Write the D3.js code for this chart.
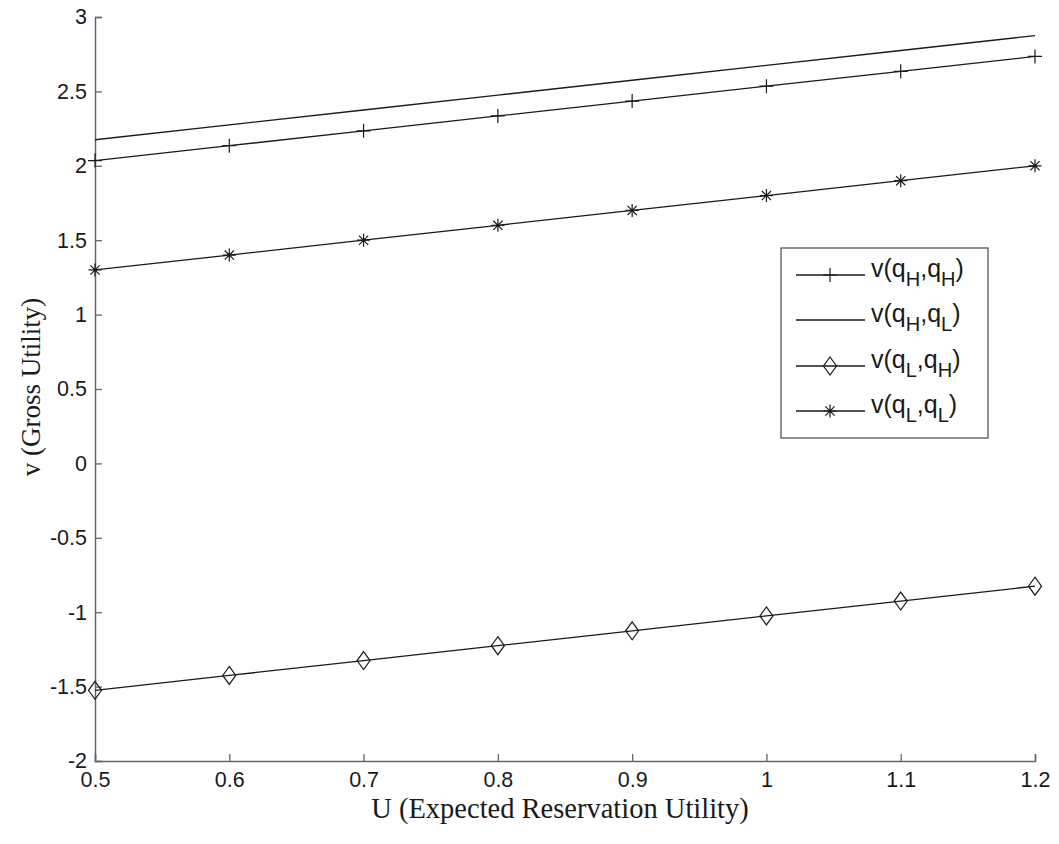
<!DOCTYPE html>
<html>
<head>
<meta charset="utf-8">
<script src="https://cdn.jsdelivr.net/npm/d3@7"></script>
<style>
  body { margin: 0; background: #fff; }
</style>
</head>
<body>
<svg id="chart" width="1059" height="844"></svg>
<script>
const uValues = [0.5, 0.6, 0.7, 0.8, 0.9, 1.0, 1.1, 1.2];
const vHH = [2.035, 2.135, 2.235, 2.335, 2.435, 2.535, 2.635, 2.735];
const vHL = [2.175, 2.275, 2.375, 2.475, 2.575, 2.675, 2.775, 2.875];
const vLH = [-1.525, -1.425, -1.325, -1.225, -1.125, -1.025, -0.925, -0.825];
const vLL = [1.3, 1.4, 1.5, 1.6, 1.7, 1.8, 1.9, 2.0];
const xTicks = [0.5, 0.6, 0.7, 0.8, 0.9, 1, 1.1, 1.2];
const yTicks = [-2, -1.5, -1, -0.5, 0, 0.5, 1, 1.5, 2, 2.5, 3];

const series = [
  { name: "HH", sub: ["H", "H"], values: vHH, marker: "plus" },
  { name: "HL", sub: ["H", "L"], values: vHL, marker: "none" },
  { name: "LH", sub: ["L", "H"], values: vLH, marker: "diamond" },
  { name: "LL", sub: ["L", "L"], values: vLL, marker: "star" }
];

const svg = d3.select("#chart");
const x = d3.scaleLinear().domain([0.5, 1.2]).range([95, 1035]);
const y = d3.scaleLinear().domain([-2, 3]).range([761, 17]);
const ink = "#1a1a1a";
const sans = "Liberation Sans, Arial, sans-serif";
const serif = "Liberation Serif, Times New Roman, serif";

// axes: left and bottom only, ticks pointing inward
const xAxis = d3.axisBottom(x).tickValues(xTicks).tickSize(-7).tickPadding(11)
  .tickFormat(d => String(d));
const yAxis = d3.axisLeft(y).tickValues(yTicks).tickSize(-7).tickPadding(8)
  .tickFormat(d => String(d));

const gx = svg.append("g").attr("transform", `translate(0,${y(-2)})`).call(xAxis);
const gy = svg.append("g").attr("transform", `translate(${x(0.5)},0)`).call(yAxis);
[gx, gy].forEach(g => {
  g.attr("font-family", sans).attr("font-size", 21.5);
  g.select(".domain").attr("stroke", "#666").attr("stroke-width", 1.5);
  g.selectAll(".tick line").attr("stroke", "#666").attr("stroke-width", 1.3);
  g.selectAll(".tick text").attr("fill", ink)
    .style("font-size", "21.5px").style("font-family", sans);
});

// axis titles
svg.append("text")
  .attr("x", 560).attr("y", 818)
  .attr("text-anchor", "middle")
  .attr("font-family", serif)
  .attr("font-size", 28.5).attr("fill", ink)
  .text("U (Expected Reservation Utility)");
svg.append("text")
  .attr("transform", "translate(40,387) rotate(-90)")
  .attr("text-anchor", "middle")
  .attr("font-family", serif)
  .attr("font-size", 27).attr("fill", ink)
  .text("v (Gross Utility)");

function drawMarker(g, type, cx, cy) {
  let d = null;
  if (type === "plus") {
    d = `M${cx - 7},${cy}H${cx + 7}M${cx},${cy - 7}V${cy + 7}`;
  } else if (type === "diamond") {
    d = `M${cx},${cy - 9}L${cx + 6.5},${cy}L${cx},${cy + 9}L${cx - 6.5},${cy}Z`;
  } else if (type === "star") {
    d = `M${cx - 6.5},${cy}H${cx + 6.5}M${cx},${cy - 6.5}V${cy + 6.5}` +
        `M${cx - 4.6},${cy - 4.6}L${cx + 4.6},${cy + 4.6}M${cx - 4.6},${cy + 4.6}L${cx + 4.6},${cy - 4.6}`;
  }
  if (d) {
    g.append("path").attr("d", d)
      .attr("stroke", ink).attr("stroke-width", 1.2).attr("fill", "none");
  }
}

const line = d3.line().x((d, i) => x(uValues[i])).y(d => y(d));
series.forEach(s => {
  const g = svg.append("g");
  g.append("path").datum(s.values).attr("d", line)
    .attr("fill", "none").attr("stroke", ink).attr("stroke-width", 1.3);
  s.values.forEach((v, i) => drawMarker(g, s.marker, x(uValues[i]), y(v)));
});

// legend
const legend = svg.append("g");
legend.append("rect").attr("x", 781).attr("y", 248).attr("width", 207).attr("height", 190)
  .attr("fill", "#fff").attr("stroke", "#555").attr("stroke-width", 1.3);
const rowY = [275, 320, 366, 411];
series.forEach((s, i) => {
  const ly = rowY[i];
  legend.append("line").attr("x1", 796).attr("x2", 865).attr("y1", ly).attr("y2", ly)
    .attr("stroke", ink).attr("stroke-width", 1.3);
  drawMarker(legend, s.marker, 830, ly);
  const t = legend.append("text").attr("x", 871).attr("y", ly + 2)
    .attr("font-family", sans)
    .attr("font-size", 25).attr("fill", ink);
  t.append("tspan").text("v(q");
  t.append("tspan").attr("dy", 9).attr("font-size", 20).text(s.sub[0]);
  t.append("tspan").attr("dy", -9).text(",q");
  t.append("tspan").attr("dy", 9).attr("font-size", 20).text(s.sub[1]);
  t.append("tspan").attr("dy", -9).text(")");
});
</script>
</body>
</html>
